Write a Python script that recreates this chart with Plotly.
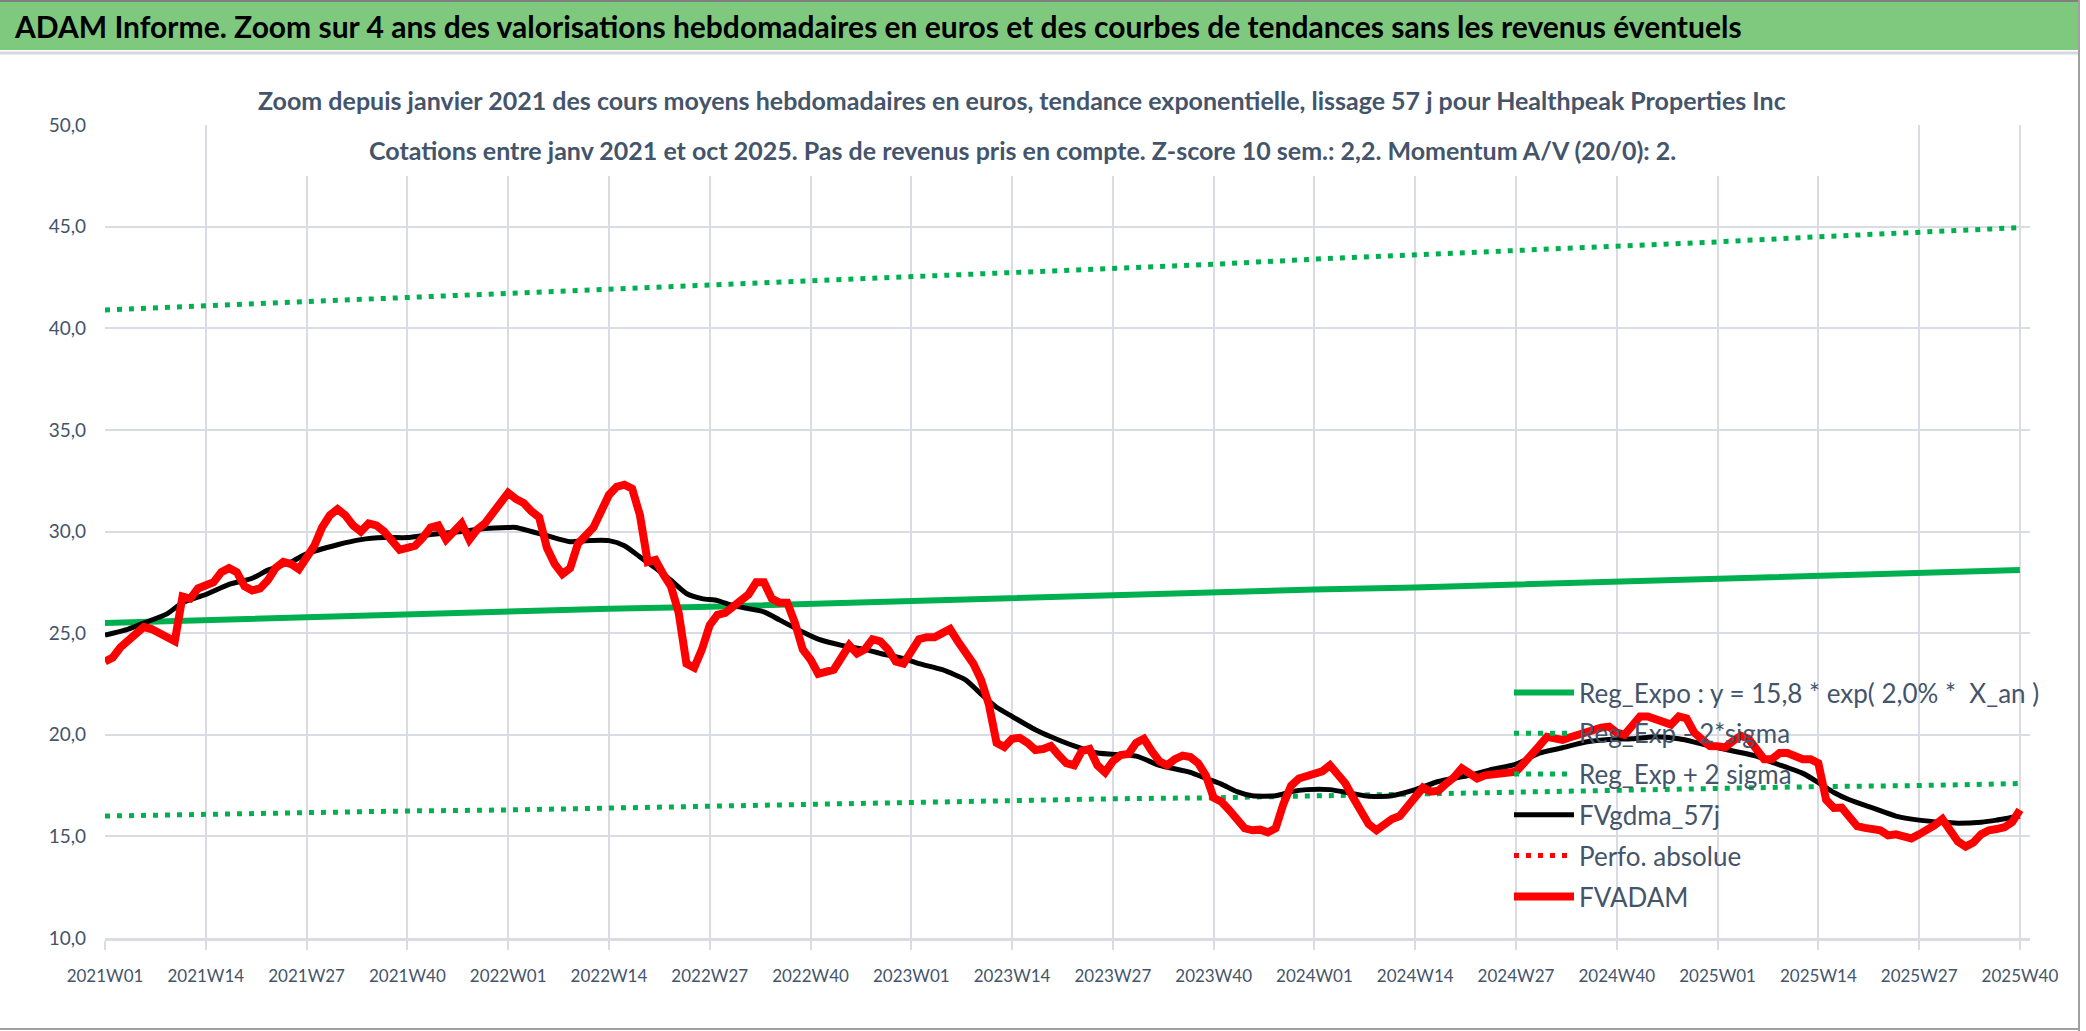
import plotly.graph_objects as go

# ---------------- data ----------------
tick_labels = ["2021W01", "2021W14", "2021W27", "2021W40", "2022W01", "2022W14", "2022W27",
               "2022W40", "2023W01", "2023W14", "2023W27", "2023W40", "2024W01", "2024W14",
               "2024W27", "2024W40", "2025W01", "2025W14", "2025W27", "2025W40"]
tick_weeks = [0, 13, 26, 39, 52, 65, 78, 91, 104, 117, 130, 143, 156, 169, 182, 195, 208, 221, 234, 247]

# FVADAM weekly average price (EUR), 2021W01 .. 2025W40
fvadam = [
    23.6, 23.8, 24.3, 24.6, 24.9, 25.3, 25.2, 25.0, 24.9, 24.6,
    26.8, 26.7, 27.2, 27.4, 27.5, 28.0, 28.2, 28.0, 27.3, 27.1,
    27.2, 27.6, 28.2, 28.5, 28.4, 28.15, 28.7, 29.3, 30.2, 30.8,
    31.1, 30.8, 30.3, 30.0, 30.4, 30.3, 30.0, 29.6, 29.1, 29.2,
    29.3, 29.7, 30.2, 30.3, 29.6, 30.0, 30.4, 29.6, 30.1, 30.4,
    30.9, 31.5, 31.9, 31.6, 31.4, 31.0, 30.7, 29.2, 28.4, 27.9,
    28.2, 29.4, 29.8, 30.2, 31.0, 31.8, 32.2, 32.3, 32.1, 30.8,
    28.5, 28.6, 27.9, 27.3, 26.0, 23.5, 23.3, 24.2, 25.4, 25.9,
    26.0, 26.3, 26.6, 26.9, 27.5, 27.5, 26.7, 26.5, 26.5, 25.5,
    24.2, 23.7, 23.0, 23.1, 23.2, 23.8, 24.4, 24.0, 24.2, 24.7,
    24.6, 24.2, 23.6, 23.5, 24.2, 24.7, 24.8, 24.8, 25.0, 25.2,
    24.6, 24.0, 23.5, 22.7, 21.5, 19.6, 19.4, 19.8, 19.85, 19.6,
    19.25, 19.3, 19.45, 19.0, 18.6, 18.5, 19.2, 19.3, 18.5, 18.15,
    18.7, 19.0, 19.05, 19.6, 19.8, 19.2, 18.7, 18.5, 18.8, 18.97,
    18.9, 18.6, 18.0, 16.9, 16.7, 16.3, 15.8, 15.4, 15.3, 15.33,
    15.2, 15.4, 16.6, 17.5, 17.85, 18.0, 18.1, 18.2, 18.5, 18.1,
    17.6, 16.9, 16.2, 15.6, 15.3, 15.6, 15.85, 16.0, 16.5, 16.95,
    17.4, 17.2, 17.25, 17.6, 17.9, 18.35, 18.1, 17.85, 18.0, 18.07,
    18.1, 18.13, 18.18, 18.6, 19.1, 19.45, 19.9, 19.8, 19.75, 19.88,
    20.0, 20.13, 20.28, 20.35, 20.4, 20.1, 20.0, 20.5, 20.9, 20.9,
    20.8, 20.67, 20.5, 20.9, 20.8, 20.1, 19.8, 19.45, 19.44, 19.38,
    19.7, 19.95, 19.8, 19.3, 18.8, 18.8, 19.1, 19.1, 18.9, 18.8,
    18.8, 18.6, 16.8, 16.4, 16.42, 16.0, 15.5, 15.42, 15.38, 15.3,
    15.05, 15.1, 15.0, 14.9, 15.1, 15.3, 15.55, 15.85, 15.3, 14.75,
    14.5, 14.7, 15.1, 15.3, 15.36, 15.45, 15.7, 16.3,
]

# FVgdma_57j (smoothed), read at these week positions
gdma_weeks = [0, 3, 5, 8, 10, 13, 16, 19, 21, 24, 26, 30, 33, 36, 39, 42, 46, 49, 52, 53,
              55, 57, 60, 62, 65, 67, 69, 71, 73, 75, 77, 79, 81, 85, 87, 90, 92, 95, 98, 100,
              103, 105, 108, 111, 113, 115, 117, 120, 122, 125, 128, 133, 136, 140, 142, 144, 146, 148, 151, 153,
              155, 158, 161, 163, 166, 169, 172, 176, 179, 182, 185, 188, 191, 194, 197, 200, 203, 205, 207, 210,
              213, 215, 219, 221, 223, 225, 228, 231, 234, 237, 239, 242, 244, 247]
gdma_values = [24.9, 25.2, 25.5, 25.95, 26.5, 26.9, 27.4, 27.7, 28.1, 28.5, 28.9, 29.35, 29.6, 29.7, 29.7, 29.85, 30.0, 30.15, 30.2, 30.2,
               30.0, 29.8, 29.5, 29.55, 29.55, 29.3, 28.75, 28.2, 27.6, 26.95, 26.7, 26.6, 26.35, 26.05, 25.65, 25.05, 24.7, 24.4, 24.2, 24.0,
               23.75, 23.5, 23.2, 22.7, 22.0, 21.35, 20.9, 20.25, 19.9, 19.45, 19.1, 18.95, 18.5, 18.15, 17.85, 17.57, 17.2, 17.0, 17.0, 17.2,
               17.3, 17.3, 17.1, 16.97, 17.0, 17.3, 17.7, 18.0, 18.3, 18.55, 19.1, 19.36, 19.64, 19.77, 19.8, 19.9, 19.8, 19.64, 19.45, 19.2,
               18.95, 18.65, 18.1, 17.65, 17.16, 16.8, 16.4, 16.0, 15.8, 15.69, 15.65, 15.7, 15.8, 16.0]

# regression curves read at the tick weeks
reg_expo = [25.5, 25.65, 25.8, 25.9, 26.05, 26.2, 26.3, 26.45, 26.6, 26.7,
            26.85, 27.0, 27.15, 27.25, 27.4, 27.55, 27.7, 27.8, 27.95, 28.1]
reg_upper = [40.9, 41.1, 41.3, 41.5, 41.7, 41.9, 42.1, 42.3, 42.55, 42.75,
             42.95, 43.15, 43.4, 43.6, 43.8, 44.05, 44.25, 44.5, 44.7, 44.95]
reg_lower = [16.0, 16.1, 16.15, 16.25, 16.3, 16.4, 16.5, 16.55, 16.65, 16.75,
             16.85, 16.9, 17.0, 17.1, 17.2, 17.3, 17.35, 17.45, 17.5, 17.6]
# "Perfo. absolue" has no visible values in the chart
perfo_absolue = [None, None]
perfo_weeks = [0, 247]

header_text = "ADAM Informe. Zoom sur 4 ans des valorisations hebdomadaires en euros et des courbes de tendances sans les revenus éventuels"
title_line1 = "Zoom depuis janvier 2021 des cours moyens hebdomadaires en euros, tendance exponentielle, lissage 57 j pour Healthpeak Properties Inc"
title_line2 = "Cotations entre janv 2021 et oct 2025. Pas de revenus pris en compte. Z-score 10 sem.: 2,2. Momentum A/V (20/0): 2."

# ---------------- figure ----------------
FONT = "Lato, sans-serif"
SLATE = "#44546A"
GREEN = "#00B050"
GRID = "#D9DCE3"

W, H = 2086, 1031
ML, MR, MT, MB = 105, 56, 125, 93
PW, PH = W - ML - MR, H - MT - MB

def px(xp):
    return (xp - ML) / PW

def py(yp):
    return (H - MB - yp) / PH

fig = go.Figure()
fig.add_trace(go.Scatter(x=tick_weeks, y=reg_expo, mode="lines", name="Reg_Expo : y = 15,8 * exp( 2,0% *  X_an )",
                         legendgroup="g1", line=dict(color=GREEN, width=6)))
fig.add_trace(go.Scatter(x=tick_weeks, y=reg_upper, mode="lines", name="Reg_Exp - 2*sigma",
                         legendgroup="g2", line=dict(color=GREEN, width=5, dash="5px,7px")))
fig.add_trace(go.Scatter(x=tick_weeks, y=reg_lower, mode="lines", name="Reg_Exp + 2 sigma",
                         legendgroup="g3", line=dict(color=GREEN, width=5, dash="5px,7px")))
fig.add_trace(go.Scatter(x=gdma_weeks, y=gdma_values, mode="lines", name="FVgdma_57j",
                         legendgroup="g4", line=dict(color="black", width=5, shape="spline", smoothing=0.6)))
fig.add_trace(go.Scatter(x=perfo_weeks, y=perfo_absolue, mode="lines", name="Perfo. absolue",
                         legendgroup="g5", line=dict(color="#FF0000", width=5, dash="5px,7px")))
fig.add_trace(go.Scatter(x=list(range(len(fvadam))), y=fvadam, mode="lines", name="FVADAM",
                         legendgroup="g6", line=dict(color="#FF0000", width=8)))

shapes = [
    # green header band
    dict(type="rect", xref="paper", yref="paper", x0=px(0), x1=px(2079), y0=py(50), y1=py(2),
         fillcolor="#7FC97F", line=dict(width=0), layer="below"),
    dict(type="line", xref="paper", yref="paper", x0=px(0), x1=px(2079), y0=py(1), y1=py(1),
         line=dict(color="#808080", width=2)),
    dict(type="line", xref="paper", yref="paper", x0=px(0), x1=px(2079), y0=py(53), y1=py(53),
         line=dict(color="#D5D8DE", width=3)),
    dict(type="line", xref="paper", yref="paper", x0=px(2079), x1=px(2079), y0=py(0), y1=py(1031),
         line=dict(color="#A0A0A0", width=2)),
    dict(type="line", xref="paper", yref="paper", x0=px(0), x1=px(2079), y0=py(1029), y1=py(1029),
         line=dict(color="#A0A0A0", width=2)),
    # white title box over the plot area
    dict(type="rect", xref="paper", yref="paper", x0=px(257), x1=px(1823), y0=py(176), y1=py(72),
         fillcolor="white", line=dict(width=0), layer="above"),
]

annotations = [
    dict(text=header_text, xref="paper", yref="paper", x=px(12), y=py(26), xanchor="left", yanchor="middle",
         showarrow=False, font=dict(family=FONT, size=30, color="black", weight="bold")),
    dict(text=title_line1, xref="paper", yref="paper", x=px(1022), y=py(100), xanchor="center", yanchor="middle",
         showarrow=False, font=dict(family=FONT, size=25, color=SLATE, weight="bold")),
    dict(text=title_line2, xref="paper", yref="paper", x=px(1022), y=py(150), xanchor="center", yanchor="middle",
         showarrow=False, font=dict(family=FONT, size=25, color=SLATE, weight="bold")),
]

fig.update_layout(
    width=W, height=H,
    margin=dict(l=ML, r=MR, t=MT, b=MB),
    paper_bgcolor="white", plot_bgcolor="white",
    separators=", ",
    showlegend=True,
    legend=dict(x=px(1509), y=py(669), xanchor="left", yanchor="top", bgcolor="rgba(0,0,0,0)",
                font=dict(family=FONT, size=26, color=SLATE), tracegroupgap=4, itemwidth=60,
                traceorder="grouped"),
    shapes=shapes, annotations=annotations,
    hovermode=False,
)
fig.update_xaxes(range=[0, 248.3], tickmode="array", tickvals=tick_weeks, ticktext=tick_labels,
                 showgrid=True, gridcolor=GRID, gridwidth=2, zeroline=False,
                 ticks="outside", ticklen=9, tickcolor=GRID, tickwidth=2,
                 showline=True, linecolor=GRID, linewidth=3,
                 tickfont=dict(family=FONT, size=17, color=SLATE), ticklabelstandoff=12)
fig.update_yaxes(range=[10, 50], dtick=5, tick0=10, tickformat=".1f",
                 showgrid=True, gridcolor=GRID, gridwidth=2, zeroline=False,
                 ticks="", showline=False,
                 tickfont=dict(family=FONT, size=19, color=SLATE), ticklabelstandoff=18)

fig.write_html("out.html", config={"displayModeBar": False},
               post_script="document.body.style.margin='0px';document.body.style.overflow='hidden';")
